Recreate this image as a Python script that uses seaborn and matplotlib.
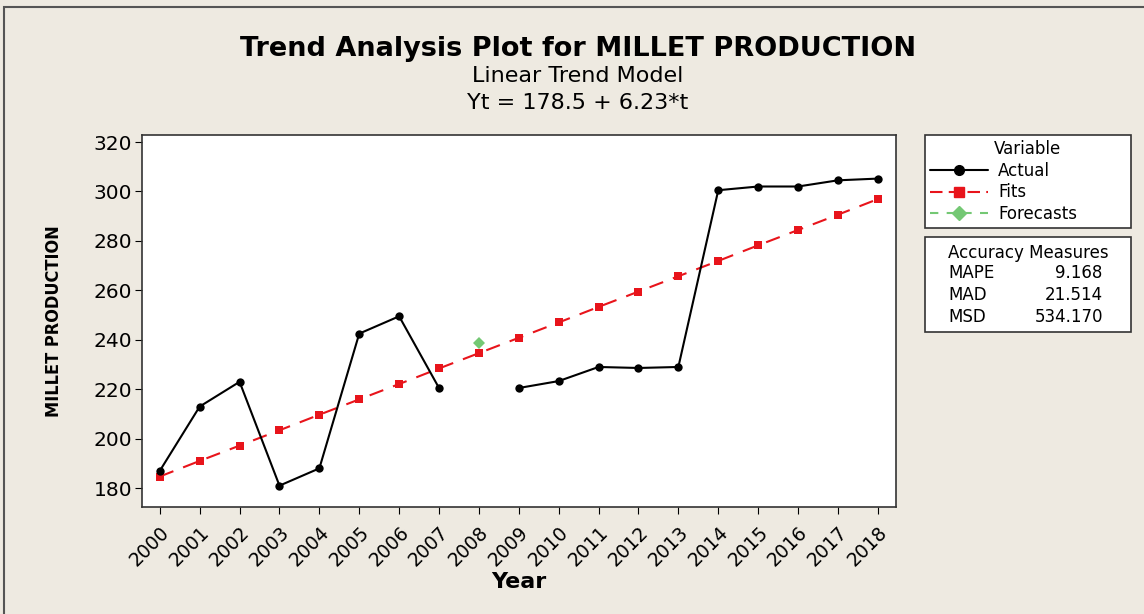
import numpy as np
import pandas as pd
import seaborn as sns
import matplotlib.pyplot as plt
from matplotlib.lines import Line2D
from matplotlib.patches import Rectangle

# --- data ---
years = list(range(2000, 2019))
actual = [187, 213, 223, 181, 188, 242.5, 249.5, 220.5, np.nan, 220.5,
          223.3, 229, 228.6, 229, 300.5, 302, 302, 304.5, 305.2]
fits = [184.7, 191.0, 197.2, 203.4, 209.7, 215.9, 222.1, 228.4, 234.6, 240.8,
        247.0, 253.3, 259.5, 265.7, 271.9, 278.2, 284.4, 290.6, 296.9]
forecast_years = [2008]
forecasts = [238.8]
measures = ["MAPE", "MAD", "MSD"]
measure_values = ["9.168", "21.514", "534.170"]

df_act = pd.DataFrame({"year": years, "value": actual})
# split the actual series where a year is missing, so the line has a gap
df_act["segment"] = df_act["value"].isna().cumsum()
df_act = df_act.dropna()
df_fit = pd.DataFrame({"year": years, "value": fits})
df_fc = pd.DataFrame({"year": forecast_years, "value": forecasts})

sns.set_style("ticks")
plt.rcParams["font.family"] = ["DejaVu Sans"]
plt.rcParams["text.color"] = "black"
plt.rcParams["axes.labelcolor"] = "black"

bg = "#EEEAE1"
red = "#E8141B"
green = "#74C874"
fig = plt.figure(figsize=(11.44, 6.14), dpi=100, facecolor=bg)
ax = fig.add_axes([0.124, 0.174, 0.659, 0.606])
ax.set_facecolor("white")

sns.lineplot(data=df_fit, x="year", y="value", ax=ax, color=red,
             linestyle=(0, (7, 5)), linewidth=1.5, marker="s", markersize=6,
             markeredgewidth=0, zorder=2)
sns.lineplot(data=df_act, x="year", y="value", units="segment", estimator=None,
             ax=ax, color="black", linewidth=1.5, marker="o", markersize=6,
             markeredgewidth=0, zorder=3)
sns.lineplot(data=df_fc, x="year", y="value", ax=ax, color=green,
             linestyle="none", marker="D", markersize=6, markeredgewidth=0,
             zorder=4)

ax.set_xlim(1999.55, 2018.45)
ax.set_ylim(172.3, 322.8)
ax.set_xticks(years)
ax.set_xticklabels([str(y) for y in years], rotation=45, ha="right",
                   rotation_mode="anchor", fontsize=13.5, color="black")
ax.set_yticks(range(180, 321, 20))
ax.tick_params(axis="y", labelsize=14.5, colors="black", length=5, pad=2)
ax.tick_params(axis="x", length=5, pad=6, colors="black")
for s in ax.spines.values():
    s.set_linewidth(1.2)
    s.set_color("#333333")

ax.set_xlabel("Year", fontsize=16, fontweight="bold", labelpad=2)
ax.set_ylabel("MILLET PRODUCTION", fontsize=13, fontweight="bold",
              fontstretch="condensed", labelpad=22)

fig.text(0.505, 0.921, "Trend Analysis Plot for MILLET PRODUCTION",
         ha="center", va="center", fontsize=19.5, fontweight="bold")
fig.text(0.505, 0.876, "Linear Trend Model", ha="center", va="center",
         fontsize=16)
fig.text(0.505, 0.832, "Yt = 178.5 + 6.23*t", ha="center", va="center",
         fontsize=16)

# outer frame of the graph window
fig.patches.append(Rectangle((0.0035, -0.1), 1.1, 1.089, transform=fig.transFigure,
                             fill=False, edgecolor="#555555", linewidth=1.5))

handles = [
    Line2D([], [], color="black", marker="o", markersize=7, linewidth=1.5),
    Line2D([], [], color=red, marker="s", markersize=7, linewidth=1.5,
           linestyle=(0, (6, 3))),
    Line2D([], [], color=green, marker="D", markersize=7, linewidth=1.5,
           linestyle=(0, (4, 4))),
]
leg = fig.legend(handles, ["Actual", "Fits", "Forecasts"], title="Variable",
                 loc="upper left", bbox_to_anchor=(0.8086, 0.625, 0.180, 0.155),
                 mode="expand", frameon=True, fancybox=False, edgecolor="#333333",
                 framealpha=1, fontsize=12, title_fontsize=12, handlelength=3.5,
                 borderpad=0.3, labelspacing=0.22, handletextpad=0.6,
                 borderaxespad=0)
leg.get_frame().set_linewidth(1.2)
leg.get_frame().set_facecolor("white")

# accuracy measures box
bx0, by0, bw, bh = 0.8086, 0.459, 0.180, 0.155
fig.patches.append(Rectangle((bx0, by0), bw, bh, transform=fig.transFigure,
                             facecolor="white", edgecolor="#333333", linewidth=1.2))
fig.text(bx0 + bw / 2, 0.588, "Accuracy Measures", ha="center",
         va="center", fontsize=12)
for yy, m, v in zip([0.555, 0.520, 0.484], measures, measure_values):
    fig.text(0.8287, yy, m, ha="left", va="center", fontsize=12)
    fig.text(0.964, yy, v, ha="right", va="center", fontsize=12)

fig.savefig("out.png", dpi=100, facecolor=bg)
